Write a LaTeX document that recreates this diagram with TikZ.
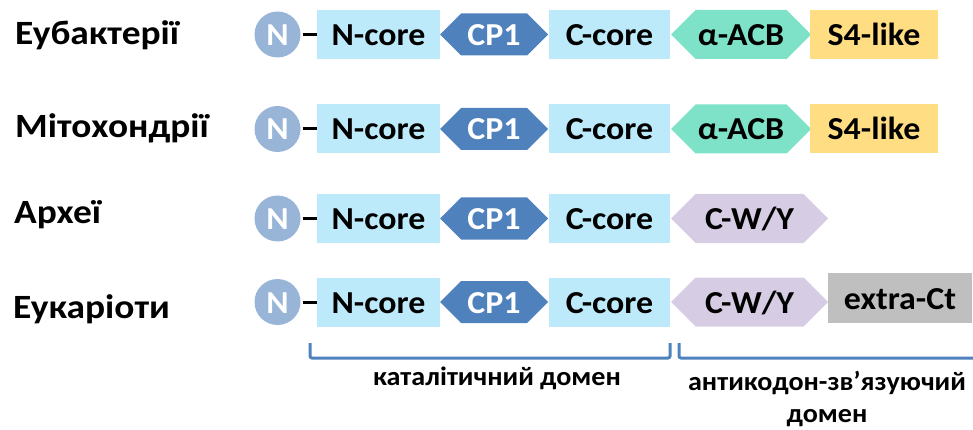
\documentclass[tikz,border=0pt]{standalone}
\usepackage{fontspec}
\setmainfont{Carlito}[FakeStretch=1.06]
\newfontfamily\rowfont{Carlito}[FakeStretch=1.1]
\usetikzlibrary{shapes.symbols}
\definecolor{corefill}{RGB}{189,234,250}
\definecolor{cpfill}{RGB}{79,129,189}
\definecolor{nfill}{RGB}{152,181,216}
\definecolor{acbfill}{RGB}{125,226,200}
\definecolor{sfourfill}{RGB}{255,221,130}
\definecolor{cwyfill}{RGB}{214,205,228}
\definecolor{extrafill}{RGB}{191,191,191}
\definecolor{bracketblue}{RGB}{79,129,189}
\tikzset{
  domtext/.style={font=\bfseries\fontsize{32}{36}\selectfont, inner sep=0pt,
    text height=22pt, text depth=0pt},
  corebox/.style={domtext, rectangle, fill=corefill, minimum height=49pt},
  hexbox/.style={domtext, signal, signal to=west and east, minimum height=#1},
  nterm/.style={circle, fill=nfill, minimum size=46pt, inner sep=0pt,
    text=white, font=\bfseries\fontsize{32}{36}\selectfont,
    text height=22pt, text depth=0pt},
  linker/.style={line width=3pt, black, shorten <=2pt},
  rowlabel/.style={anchor=base west, inner sep=0pt, font=\rowfont\bfseries\fontsize{34}{40}\selectfont},
  bracket/.style={line width=3pt, bracketblue, rounded corners=2pt},
  domlabel/.style={inner sep=0pt, align=center, anchor=base,
    font=\bfseries\fontsize{26.5}{32}\selectfont}
}
\begin{document}
\begin{tikzpicture}[x=1pt, y=-1pt]
\useasboundingbox (0,0) rectangle (973,430);

% row labels
\node[rowlabel] (l1) at (15,45) {Еубактерії};
\node[rowlabel] (l2) at (15,138) {Мітохондрії};
\node[rowlabel] (l3) at (14,223) {Археї};
\node[rowlabel] (l4) at (13,318) {Еукаріоти};

% common catalytic part of each row
\foreach \r/\y in {1/34.5, 2/129, 3/218.5, 4/302} {
  \node[nterm] (n\r) at (277.5,\y) {N};
  \node[corebox, minimum width=123pt] (nc\r) at (378.5,\y) {N-core};
  \node[hexbox=42pt, fill=cpfill, text=white, minimum width=108pt] (cp\r) at (494,\y) {CP1};
  \node[corebox, minimum width=121pt] (cc\r) at (609.5,\y) {C-core};
  \draw[linker] (n\r.east) -- (nc\r.west);
}

% anticodon-binding part
\node[hexbox=49pt, fill=acbfill, minimum width=140pt] (acb1) at (741,34.5) {α-ACB};
\node[corebox, fill=sfourfill, minimum width=128pt] (s41) at (874,34.5) {S4-like};
\node[hexbox=49pt, fill=acbfill, minimum width=140pt] (acb2) at (741,129) {α-ACB};
\node[corebox, fill=sfourfill, minimum width=128pt] (s42) at (874,129) {S4-like};
\node[hexbox=49pt, fill=cwyfill, minimum width=157pt] (cwy3) at (749.5,218.5) {C-W/Y};
\node[hexbox=49pt, fill=cwyfill, minimum width=157pt] (cwy4) at (749.5,302) {C-W/Y};
\node[corebox, fill=extrafill, minimum width=144pt, minimum height=50pt] (ext4) at (900,298) {extra-Ct};

% brackets
\coordinate (ba) at (310,343);
\coordinate (bb) at (670,343);
\coordinate (bc) at (679,343);
\coordinate (bd) at (990,358);
\draw[bracket] (ba) -- (ba |- bd) -- (bb |- bd) -- (bb);
\draw[bracket] (bc) -- (bc |- bd) -- (bd);

\node[domlabel] (cat) at (497,385) {каталітичний домен};
\node[domlabel] (anti) at (827,422) {антикодон-зв’язуючий\\домен};
\end{tikzpicture}
\end{document}
